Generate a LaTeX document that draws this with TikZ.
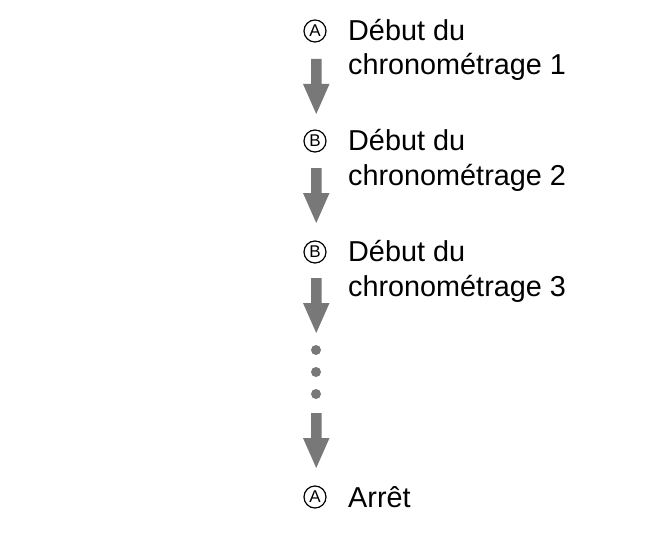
\documentclass[tikz,border=0pt]{standalone}
\usepackage{fontspec}
\setmainfont{Liberation Sans}
\begin{document}
\begin{tikzpicture}[x=1pt,y=-1pt]
\useasboundingbox (0,0) rectangle (667,535);
\definecolor{arrowgray}{RGB}{120,120,120}
\tikzset{
  circ/.style={circle,draw=black,line width=1.2pt,minimum size=22pt,inner sep=0pt,font=\fontsize{17}{17}\selectfont},
  lbl/.style={anchor=base west,inner sep=0pt,align=left,font=\fontsize{28.8}{35}\selectfont},
  dot/.style={circle,fill=arrowgray,minimum size=10pt,inner sep=0pt},
}
% circled letters
\node[circ] (c1) at (315,31) {A};
\node[circ] (c2) at (315,141) {B};
\node[circ] (c3) at (315,252) {B};
\node[circ] (c4) at (315,497) {A};
% labels
\node[lbl] (t1) at (348,75) {Début du\\chronométrage 1};
\node[lbl] (t2) at (348,185) {Début du\\chronométrage 2};
\node[lbl] (t3) at (348,296) {Début du\\chronométrage 3};
\node[lbl] (t4) at (348,507) {Arrêt};
% arrows
\foreach \y [count=\i] in {59,168,278,413}{
  \fill[arrowgray] (311,\y) -- (321.5,\y) -- (321.5,\y+25) -- (329.5,\y+25) -- (316.25,\y+55) -- (303,\y+25) -- (311,\y+25) -- cycle;
}
% dots
\node[dot] (d1) at (316,350) {};
\node[dot] (d2) at (316,372) {};
\node[dot] (d3) at (316,394) {};
\end{tikzpicture}
\end{document}
